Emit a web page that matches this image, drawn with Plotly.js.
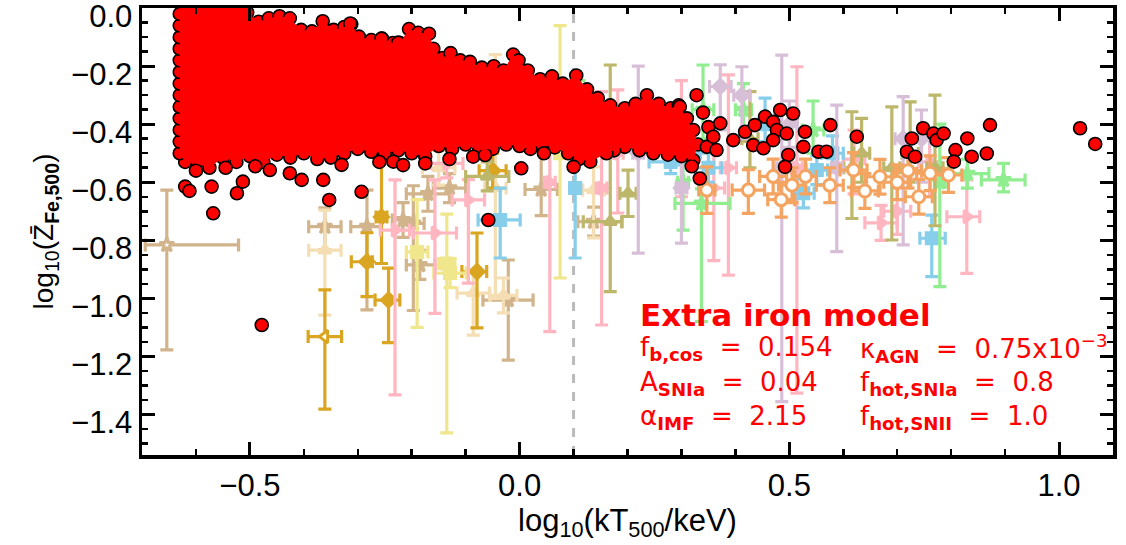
<!DOCTYPE html>
<html><head><meta charset="utf-8">
<script src="https://cdn.plot.ly/plotly-3.0.1.min.js"></script>
<style>html,body{margin:0;padding:0;background:#fff}#chart{width:1126px;height:545px}</style>
</head><body><div id="chart"></div>
<script>
// ---------------- axis ranges / ticks ----------------
const xRange = [-0.7, 1.1];
const yRange = [-1.54, 0.0005];
const thresholdX = 0.1;   // dashed vertical line

// ---------------- simulated clusters (red) ----------------
// outline of the dense core of simulated clusters (ordered around the cloud)
const cloudEdgeX = [-0.630,-0.520,-0.505,-0.484,-0.465,-0.445,-0.426,-0.405,-0.385,-0.365,-0.345,-0.325,-0.312,-0.298,-0.275,-0.255,-0.235,-0.222,-0.205,-0.188,-0.168,-0.160,-0.143,-0.128,-0.110,-0.092,-0.070,-0.048,-0.030,-0.012,-0.002,0.015,0.038,0.060,0.080,0.105,0.125,0.145,0.168,0.195,0.215,0.236,0.258,0.280,0.295,0.310,0.322,0.330,
  0.322,0.300,0.275,0.248,0.222,0.195,0.175,0.161,0.131,0.110,0.090,0.065,0.040,0.020,0.000,-0.025,-0.050,-0.075,-0.100,-0.125,-0.150,-0.175,-0.200,-0.225,-0.250,-0.275,-0.300,-0.325,-0.350,-0.375,-0.400,-0.425,-0.450,-0.475,-0.500,-0.525,-0.550,-0.575,-0.600,-0.620,
  -0.630,-0.630,-0.630,-0.630,-0.630,-0.630,-0.630,-0.630,-0.630,-0.630,-0.630,-0.630,-0.630];
const cloudEdgeY = [0.020,0.020,-0.015,-0.047,-0.035,-0.028,-0.035,-0.075,-0.080,-0.045,-0.075,-0.065,-0.055,-0.098,-0.110,-0.105,-0.120,-0.120,-0.072,-0.085,-0.088,-0.140,-0.172,-0.155,-0.180,-0.185,-0.205,-0.200,-0.215,-0.160,-0.180,-0.215,-0.245,-0.235,-0.260,-0.232,-0.280,-0.310,-0.335,-0.345,-0.330,-0.300,-0.330,-0.345,-0.335,-0.380,-0.420,-0.470,
  -0.524,-0.510,-0.505,-0.500,-0.490,-0.478,-0.490,-0.500,-0.529,-0.520,-0.500,-0.480,-0.470,-0.485,-0.475,-0.470,-0.485,-0.490,-0.470,-0.485,-0.475,-0.510,-0.500,-0.490,-0.500,-0.495,-0.485,-0.500,-0.515,-0.520,-0.500,-0.515,-0.505,-0.530,-0.510,-0.530,-0.515,-0.550,-0.535,-0.530,
  -0.500,-0.460,-0.420,-0.380,-0.340,-0.300,-0.260,-0.220,-0.180,-0.140,-0.100,-0.060,-0.020];
// isolated simulated clusters around the core
const cloudOutX = [-0.620,-0.612,-0.600,-0.571,-0.568,-0.545,-0.524,-0.513,-0.490,-0.463,-0.426,-0.404,-0.364,-0.353,-0.330,-0.293,-0.260,-0.234,-0.216,-0.175,-0.130,-0.086,-0.064,0.003,0.045,0.100,-0.058,-0.478,-0.256,-0.225,-0.314,-0.170];
const cloudOutY = [-0.615,-0.630,-0.560,-0.615,-0.707,-0.550,-0.638,-0.598,-0.545,-0.558,-0.569,-0.592,-0.592,-0.661,-0.540,-0.633,-0.530,-0.529,-0.541,-0.535,-0.520,-0.512,-0.506,-0.552,-0.500,-0.547,-0.730,-1.092,-0.105,-0.119,-0.053,-0.180];
// hot tail of simulated clusters
const tailX = [0.328,0.297,0.340,0.350,0.334,0.319,0.347,0.359,0.365,0.372,0.396,0.418,0.436,0.455,0.470,0.483,0.507,0.477,0.495,0.470,0.433,0.452,0.498,0.492,0.529,0.526,0.576,0.554,0.569,0.625,0.727,0.718,0.733,0.748,0.767,0.773,0.786,0.808,0.805,0.830,0.838,0.866,0.872,1.039,1.067];
const tailY = [-0.300,-0.340,-0.360,-0.410,-0.587,-0.545,-0.478,-0.443,-0.489,-0.397,-0.455,-0.426,-0.403,-0.374,-0.392,-0.351,-0.363,-0.420,-0.432,-0.455,-0.472,-0.483,-0.506,-0.547,-0.426,-0.478,-0.403,-0.495,-0.495,-0.443,-0.449,-0.495,-0.512,-0.414,-0.432,-0.455,-0.432,-0.489,-0.529,-0.449,-0.512,-0.501,-0.403,-0.414,-0.468];

// ---------------- observed clusters: [x, y, xMinus, xPlus, yMinus, yPlus] ----------------
const tanObs = [
  [-0.654,-0.816,0.040,0.133,0.362,0.189],[-0.361,-0.753,0.030,0.030,0.080,0.065],
  [-0.283,-0.753,0.030,0.025,0.287,0.126],[-0.216,-0.730,0.020,0.020,0.060,0.060],
  [-0.197,-0.742,0.020,0.020,0.300,0.130],[-0.185,-0.885,0.025,0.028,0.050,0.050],
  [-0.170,-0.640,0.040,0.040,0.060,0.060],[-0.021,-1.006,0.047,0.046,0.207,0.138],
  [0.040,-0.625,0.030,0.030,0.090,0.140],[0.137,-0.736,0.029,0.052,0.050,0.050],
  [-0.130,-0.620,0.030,0.030,0.050,0.050]];
const wheatObs = [
  [-0.361,-0.834,0.030,0.030,0.224,0.138],[-0.086,-0.982,0.030,0.030,0.145,0.080],
  [-0.045,-0.620,0.020,0.020,0.380,0.460],[0.137,-0.627,0.020,0.020,0.165,0.080],
  [-0.150,-0.550,0.030,0.030,0.060,0.060],[-0.030,-0.990,0.025,0.025,0.060,0.060]];
const goldObs = [
  [-0.361,-1.132,0.031,0.031,0.250,0.161],[-0.283,-0.874,0.029,0.010,0.120,0.100],
  [-0.256,-0.720,0.010,0.010,0.160,0.255],[-0.243,-1.006,0.025,0.021,0.147,0.110],
  [-0.079,-0.908,0.028,0.018,0.194,0.133],[-0.050,-0.560,0.025,0.025,0.060,0.060]];
const khakiObs = [
  [-0.190,-0.840,0.020,0.020,0.260,0.180],[-0.135,-0.880,0.015,0.015,0.584,0.170],
  [-0.129,-0.913,0.030,0.030,0.050,0.050],[0.075,-0.500,0.010,0.010,0.430,0.440]];
const pinkObs = [
  [-0.231,-0.765,0.027,0.027,0.568,0.173],[-0.157,-0.775,0.040,0.040,0.277,0.183],
  [-0.095,-0.661,0.030,0.030,0.287,0.070],[0.056,-0.600,0.010,0.010,0.515,0.120],
  [0.152,-0.620,0.010,0.010,0.472,0.332],[0.182,-0.500,0.010,0.010,0.206,0.218],
  [0.360,-0.620,0.020,0.020,0.250,0.170],[0.387,-0.550,0.015,0.015,0.370,0.320],
  [0.514,-0.550,0.010,0.010,0.777,0.348],[0.670,-0.740,0.030,0.030,0.060,0.060],
  [0.829,-0.719,0.037,0.024,0.195,0.127],[-0.135,-0.535,0.030,0.030,0.050,0.050],
  [0.300,-0.450,0.015,0.015,0.200,0.200],[0.620,-0.520,0.020,0.020,0.120,0.100],
  [0.760,-0.530,0.020,0.020,0.120,0.100],[0.700,-0.700,0.025,0.025,0.080,0.080]];
const blueObs = [
  [-0.036,-0.730,0.041,0.037,0.131,0.110],[0.103,-0.620,0.010,0.010,0.241,0.130],
  [0.280,-0.530,0.040,0.040,0.040,0.040],[0.305,-0.500,0.030,0.030,0.040,0.040],
  [0.455,-0.400,0.015,0.015,0.060,0.090],[0.526,-0.638,0.020,0.020,0.050,0.050],
  [0.551,-0.558,0.020,0.020,0.050,0.050],[0.764,-0.793,0.022,0.025,0.132,0.080],
  [0.350,-0.550,0.025,0.025,0.050,0.050],[0.580,-0.500,0.020,0.020,0.060,0.060]];
const greenObs = [
  [0.110,-0.300,0.015,0.015,0.050,0.050],[0.303,-0.600,0.010,0.010,0.165,0.100],
  [0.337,-0.673,0.049,0.053,0.407,0.050],[0.340,-0.350,0.020,0.020,0.100,0.154],
  [0.415,-0.350,0.015,0.015,0.100,0.090],[0.544,-0.420,0.020,0.020,0.080,0.100],
  [0.779,-0.600,0.010,0.010,0.360,0.200],[0.830,-0.570,0.040,0.040,0.050,0.050],
  [0.897,-0.592,0.041,0.040,0.041,0.057],[0.250,-0.420,0.020,0.020,0.080,0.080]];
const oliveObs = [
  [-0.060,-0.580,0.040,0.040,0.050,0.050],[0.168,-0.736,0.050,0.022,0.241,0.540],
  [0.201,-0.638,0.015,0.015,0.080,0.080],[0.427,-0.450,0.015,0.015,0.100,0.162],
  [0.616,-0.550,0.015,0.015,0.175,0.193],[0.634,-0.500,0.015,0.015,0.100,0.120],
  [0.690,-0.550,0.015,0.015,0.249,0.210],[0.724,-0.500,0.015,0.015,0.100,0.177],
  [0.770,-0.550,0.015,0.015,0.200,0.250]];
const thistleObs = [
  [0.220,-0.500,0.010,0.010,0.344,0.300],[0.300,-0.620,0.010,0.010,0.190,0.100],
  [0.372,-0.270,0.020,0.020,0.150,0.075],[0.412,-0.300,0.015,0.015,0.150,0.098],
  [0.486,-0.550,0.010,0.010,0.806,0.388],[0.588,-0.550,0.010,0.010,0.289,0.216],
  [0.711,-0.450,0.015,0.015,0.366,0.145],[0.745,-0.450,0.015,0.015,0.150,0.099],
  [0.500,-0.400,0.015,0.015,0.080,0.080]];
const orangeObs = [
  [0.347,-0.627,0.015,0.015,0.080,0.080],[0.424,-0.627,0.030,0.030,0.080,0.070],
  [0.470,-0.580,0.025,0.025,0.060,0.060],[0.485,-0.660,0.025,0.025,0.060,0.060],
  [0.505,-0.610,0.025,0.025,0.060,0.060],[0.530,-0.580,0.020,0.020,0.060,0.060],
  [0.575,-0.610,0.025,0.025,0.060,0.060],[0.619,-0.558,0.025,0.025,0.060,0.060],
  [0.640,-0.630,0.025,0.025,0.060,0.060],[0.668,-0.581,0.025,0.025,0.060,0.060],
  [0.700,-0.600,0.025,0.025,0.060,0.060],[0.720,-0.560,0.025,0.025,0.060,0.060],
  [0.740,-0.650,0.025,0.025,0.060,0.060],[0.761,-0.569,0.025,0.025,0.060,0.060],
  [0.795,-0.575,0.025,0.025,0.060,0.060]];

// ---------------- build traces ----------------
function obsTrace(rows, color, symbol, fill, size) {
  return {
    type: 'scatter', mode: 'markers', hoverinfo: 'skip', showlegend: false,
    x: rows.map(r => r[0]), y: rows.map(r => r[1]),
    error_x: {type: 'data', symmetric: false, arrayminus: rows.map(r => r[2]), array: rows.map(r => r[3]),
              color: color, thickness: 3.2, width: 6.5},
    error_y: {type: 'data', symmetric: false, arrayminus: rows.map(r => r[4]), array: rows.map(r => r[5]),
              color: color, thickness: 3.2, width: 6.5},
    marker: {symbol: symbol, size: size || 11, color: fill || color, line: {color: color, width: 3}}
  };
}
const tanFill = tanObs.map((r, i) => i === 0 ? '#FFFFFF' : '#D2B48C');
const goldSym = goldObs.map((r, i) => i === 0 ? 'triangle-left' : 'diamond');
const goldFill = goldObs.map((r, i) => i === 0 ? '#FFFFFF' : '#DAA520');
const traces = [
  obsTrace(tanObs, '#D2B48C', 'star', tanFill),
  obsTrace(wheatObs, '#F5DEB3', 'triangle-up'),
  obsTrace(goldObs, '#DAA520', goldSym, goldFill),
  obsTrace(khakiObs, '#F0E68C', 'square'),
  obsTrace(pinkObs, '#FFB6C1', 'triangle-right'),
  obsTrace(blueObs, '#87CEEB', 'square'),
  obsTrace(greenObs, '#90EE90', 'star'),
  obsTrace(oliveObs, '#BDB76B', 'triangle-up'),
  obsTrace(thistleObs, '#D8BFD8', 'diamond'),
  obsTrace(orangeObs, '#F4A460', 'circle', '#FFFFFF', 12),
  { // simulated clusters
    type: 'scatter', mode: 'markers', hoverinfo: 'skip', showlegend: false,
    x: cloudEdgeX.concat(cloudOutX, tailX), y: cloudEdgeY.concat(cloudOutY, tailY),
    marker: {symbol: 'circle', size: 13, color: '#FF0000', line: {color: '#000000', width: 1.6}}
  },
  { // dense core of simulated clusters, drawn on the overlay axes so it sits on top
    type: 'scatter', mode: 'lines', hoverinfo: 'skip', showlegend: false,
    xaxis: 'x2', yaxis: 'y2',
    x: cloudEdgeX, y: cloudEdgeY, fill: 'toself', fillcolor: '#FF0000',
    line: {width: 0, color: 'rgba(0,0,0,0)'}
  }
];

const tickFont = {family: 'Liberation Sans, Arial, sans-serif', size: 31, color: '#000'};
const xTitleFont = {family: 'Liberation Sans, Arial, sans-serif', size: 31, color: '#000'};
const yTitleFont = {family: 'Liberation Sans, Arial, sans-serif', size: 28, color: '#000'};
const txtFont = {family: 'DejaVu Sans, sans-serif', size: 26, color: '#FF0000'};
const annX1 = 0.511, annX2 = 0.737;
const layout = {
  width: 1126, height: 545,
  margin: {l: 142, r: 13, t: 8, b: 90},
  paper_bgcolor: '#fff', plot_bgcolor: 'rgba(0,0,0,0)',
  showlegend: false,
  xaxis: {
    range: xRange, tick0: 0, dtick: 0.5, tickformat: '.1f',
    ticks: 'inside', ticklen: 13, tickwidth: 3, tickcolor: '#000',
    minor: {dtick: 0.1, ticks: 'inside', ticklen: 6, tickwidth: 2.5, tickcolor: '#000'},
    showline: true, linewidth: 3.5, linecolor: '#000', mirror: 'allticks',
    showgrid: false, zeroline: false, tickfont: tickFont,
    title: {text: 'log<sub>10</sub>(kT<sub>500</sub>/keV)', font: xTitleFont, standoff: 6}
  },
  yaxis: {
    range: yRange, tick0: 0, dtick: 0.2, tickformat: '.1f',
    ticks: 'inside', ticklen: 13, tickwidth: 3, tickcolor: '#000',
    minor: {dtick: 0.05, ticks: 'inside', ticklen: 6, tickwidth: 2.5, tickcolor: '#000'},
    showline: true, linewidth: 3.5, linecolor: '#000', mirror: 'allticks',
    showgrid: false, zeroline: false, tickfont: tickFont, ticklabelshift: 8, ticklabeloverflow: 'allow',
    title: {text: 'log<sub>10</sub>(Z\u0304<sub><b>Fe,500</b></sub>)', font: yTitleFont, standoff: 10}
  },
  xaxis2: {overlaying: 'x', range: xRange, visible: false, showgrid: false, zeroline: false},
  yaxis2: {overlaying: 'y', range: yRange, visible: false, showgrid: false, zeroline: false},
  shapes: [{type: 'line', xref: 'x', yref: 'paper', x0: thresholdX, x1: thresholdX, y0: 0, y1: 1,
            line: {color: '#BBBBBB', width: 3, dash: 'dash'}, layer: 'below'}],
  annotations: [
    {xref: 'paper', yref: 'paper', x: annX1, y: 0.314, xanchor: 'left', yanchor: 'middle', showarrow: false,
     text: '<b>Extra iron model</b>', font: {family: 'DejaVu Sans, sans-serif', size: 31, color: '#FF0000'}},
    {xref: 'paper', yref: 'paper', x: annX1, y: 0.238, xanchor: 'left', yanchor: 'middle', showarrow: false,
     text: 'f<sub><b>b,cos</b></sub>\u00a0\u00a0=\u00a0\u00a00.154', font: txtFont},
    {xref: 'paper', yref: 'paper', x: annX1, y: 0.160, xanchor: 'left', yanchor: 'middle', showarrow: false,
     text: 'A<sub><b>SNIa</b></sub>\u00a0\u00a0=\u00a0\u00a00.04', font: txtFont},
    {xref: 'paper', yref: 'paper', x: annX1, y: 0.085, xanchor: 'left', yanchor: 'middle', showarrow: false,
     text: '\u03b1<sub><b>IMF</b></sub>\u00a0\u00a0=\u00a0\u00a02.15', font: txtFont},
    {xref: 'paper', yref: 'paper', x: annX2, y: 0.238, xanchor: 'left', yanchor: 'middle', showarrow: false,
     text: '\u03ba<sub><b>AGN</b></sub>\u00a0\u00a0=\u00a0\u00a00.75x10<sup>\u22123</sup>', font: txtFont},
    {xref: 'paper', yref: 'paper', x: annX2, y: 0.160, xanchor: 'left', yanchor: 'middle', showarrow: false,
     text: 'f<sub><b>hot,SNIa</b></sub>\u00a0\u00a0=\u00a0\u00a00.8', font: txtFont},
    {xref: 'paper', yref: 'paper', x: annX2, y: 0.085, xanchor: 'left', yanchor: 'middle', showarrow: false,
     text: 'f<sub><b>hot,SNII</b></sub>\u00a0\u00a0=\u00a0\u00a01.0', font: txtFont}
  ]
};
Plotly.newPlot('chart', traces, layout, {staticPlot: true, displayModeBar: false});
</script></body></html>
